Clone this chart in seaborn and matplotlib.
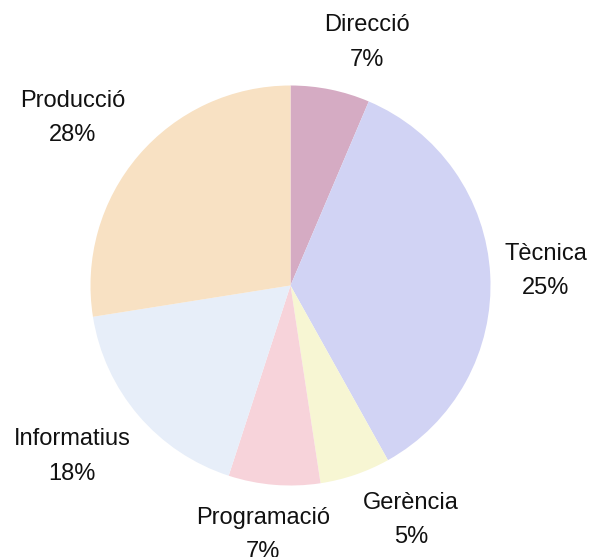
import matplotlib
matplotlib.use("Agg")
import matplotlib.pyplot as plt
import seaborn as sns

sns.set_theme(style="white")
plt.rcParams['font.family'] = ['Liberation Sans', 'DejaVu Sans']

# Data (slice shares as drawn, and the percentages printed on the chart)
categories = ["Direcció", "Tècnica", "Gerència", "Programació", "Informatius", "Producció"]
shares = [6.4, 35.5, 5.7, 7.4, 17.5, 27.5]
pct_labels = ["7%", "25%", "5%", "7%", "18%", "28%"]

# Style / layout
colors = sns.color_palette(["#D5ABC3", "#D1D3F4", "#F7F6D3", "#F7D3DA", "#E7EEF9", "#F8E1C3"])
label_pos = [(0.3825, 1.215), (1.2775, 0.0725), (0.6025, -1.1725),
             (-0.1375, -1.2475), (-1.0925, -0.855), (-1.0875, 0.8375)]

W, H, DPI = 591, 557, 100
fig = plt.figure(figsize=(W / DPI, H / DPI), dpi=DPI)
ax = fig.add_axes([0, 0, 1, 1])

ax.pie(shares, colors=colors, startangle=90, counterclock=False,
       wedgeprops=dict(linewidth=0, edgecolor="none"))

for name, pct, (x, y) in zip(categories, pct_labels, label_pos):
    ax.text(x, y, f"{name}\n{pct}", ha="center", va="center",
            fontsize=17, color="#111111", linespacing=1.75)

cx, cy, r = 290.5, 285.5, 200.0
ax.set_xlim(-cx / r, (W - cx) / r)
ax.set_ylim(-(H - cy) / r, cy / r)
ax.set_aspect("auto")
ax.axis("off")

fig.savefig("out.png", dpi=DPI, facecolor="white")
